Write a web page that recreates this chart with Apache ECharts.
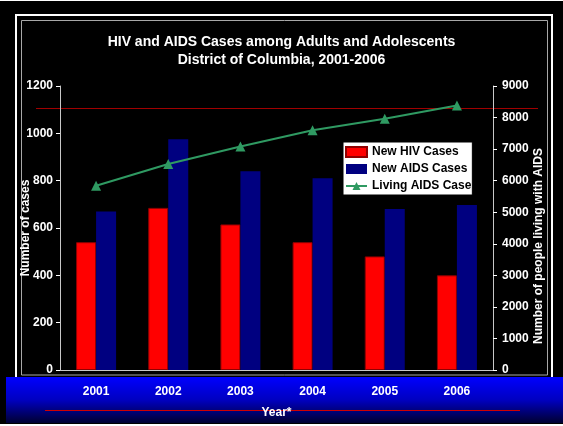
<!DOCTYPE html>
<html>
<head>
<meta charset="utf-8">
<style>
  html, body { margin: 0; padding: 0; background: #fff; }
  #chart { width: 563px; height: 426px; }
</style>
<script src="https://cdn.jsdelivr.net/npm/echarts@6/dist/echarts.min.js"></script>
</head>
<body>
<div id="chart"></div>
<script>
const years = ['2001', '2002', '2003', '2004', '2005', '2006']
const newHiv = [540, 685, 615, 540, 480, 400]
const newAids = [670, 975, 840, 810, 680, 697]
const livingAids = [5840, 6530, 7080, 7600, 7960, 8380]
const leftTicks = [0, 1200, 200]
const rightTicks = [0, 9000, 1000]

const font = 'Arial, "Liberation Sans", sans-serif'
const chart = echarts.init(document.getElementById('chart'))

chart.setOption({
  backgroundColor: '#000',
  animation: false,
  textStyle: { fontFamily: font },
  title: {
    text: 'HIV and AIDS Cases among Adults and Adolescents\nDistrict of Columbia, 2001-2006',
    left: 'center',
    top: 33,
    padding: 0,
    textStyle: { color: '#fff', fontSize: 14, fontWeight: 'bold', lineHeight: 18, fontFamily: font }
  },
  legend: {
    orient: 'vertical',
    left: 343,
    top: 142,
    padding: [4, 1, 3, 2],
    itemWidth: 21,
    itemHeight: 10,
    itemGap: 5,
    backgroundColor: '#fff',
    borderColor: '#000',
    borderWidth: 1,
    data: [
      { name: 'New HIV Cases', icon: 'rect' },
      { name: 'New AIDS Cases', icon: 'rect' },
      { name: 'Living AIDS Cases' }
    ],
    textStyle: {
      color: '#000', fontSize: 12, fontWeight: 'bold', fontFamily: font,
      width: 104, overflow: 'truncate', ellipsis: ''
    }
  },
  grid: { left: 60, right: 70, top: 86, bottom: 56 },
  xAxis: {
    type: 'category',
    data: years,
    name: 'Year*',
    nameLocation: 'middle',
    nameGap: 37,
    nameMoveOverlap: false,
    nameTextStyle: { color: '#fff', fontSize: 12, fontWeight: 'bold' },
    axisLine: { lineStyle: { color: '#c8c8c8', width: 1 } },
    axisTick: { inside: true, length: 5, lineStyle: { color: '#fff' } },
    axisLabel: { color: '#fff', fontSize: 12, fontWeight: 'bold', margin: 16 }
  },
  yAxis: [{
    type: 'value',
    min: leftTicks[0],
    max: leftTicks[1],
    interval: leftTicks[2],
    name: 'Number of cases',
    nameLocation: 'middle',
    nameRotate: 90,
    nameGap: 28,
    nameMoveOverlap: false,
    nameTextStyle: { color: '#fff', fontSize: 12, fontWeight: 'bold' },
    axisLine: { show: true, lineStyle: { color: '#c8c8c8' } },
    axisTick: { show: true, length: 4, lineStyle: { color: '#fff' } },
    axisLabel: { color: '#fff', fontSize: 12, fontWeight: 'bold', margin: 7, formatter: v => String(v) },
    splitLine: { show: false }
  }, {
    type: 'value',
    position: 'right',
    min: rightTicks[0],
    max: rightTicks[1],
    interval: rightTicks[2],
    name: 'Number of people living with AIDS',
    nameLocation: 'middle',
    nameRotate: 90,
    nameGap: 40,
    nameMoveOverlap: false,
    nameTextStyle: { color: '#fff', fontSize: 12, fontWeight: 'bold', padding: [0, 36, 0, 0] },
    axisLine: { show: true, lineStyle: { color: '#c8c8c8' } },
    axisTick: { show: true, length: 4, lineStyle: { color: '#fff' } },
    axisLabel: { color: '#fff', fontSize: 12, fontWeight: 'bold', margin: 9, formatter: v => String(v) },
    splitLine: { show: false }
  }],
  graphic: [
    { type: 'rect', z: -3, silent: true, shape: { x: 0, y: 0, width: 563, height: 1 }, style: { fill: '#fff' } },
    { type: 'rect', z: -3, silent: true, shape: { x: 16, y: 15, width: 536, height: 372 }, style: { fill: 'none', stroke: '#fff', lineWidth: 2 } },
    { type: 'rect', z: -3, silent: true, shape: { x: 21.5, y: 20.5, width: 526, height: 354.5 }, style: { fill: 'none', stroke: '#a8a8a8', lineWidth: 1 } },
    { type: 'line', z: -3, silent: true, shape: { x1: 36, y1: 108.5, x2: 538, y2: 108.5 }, style: { stroke: '#a00000', lineWidth: 1 } },
    {
      type: 'rect', z: -2, silent: true,
      shape: { x: 6, y: 377, width: 557, height: 46 },
      style: {
        fill: new echarts.graphic.LinearGradient(0, 0, 0, 1, [
          { offset: 0, color: '#0000ff' },
          { offset: 0.5, color: '#0000c0' },
          { offset: 1, color: '#000030' }
        ])
      }
    },
    { type: 'line', z: -1, silent: true, shape: { x1: 45, y1: 410.5, x2: 520, y2: 410.5 }, style: { stroke: '#d00000', lineWidth: 1 } },
    { type: 'rect', z: -1, silent: true, shape: { x: 0, y: 424, width: 563, height: 2 }, style: { fill: '#fff' } }
  ],
  series: [{
    name: 'New HIV Cases',
    type: 'bar',
    data: newHiv,
    barWidth: 20,
    barGap: '0%',
    itemStyle: { color: '#ff0000', borderColor: '#900000', borderWidth: 1 }
  }, {
    name: 'New AIDS Cases',
    type: 'bar',
    data: newAids,
    barWidth: 20,
    itemStyle: { color: '#000080' }
  }, {
    name: 'Living AIDS Cases',
    type: 'line',
    yAxisIndex: 1,
    data: livingAids,
    symbol: 'triangle',
    symbolSize: 10,
    lineStyle: { color: '#2f9a62', width: 2 },
    itemStyle: { color: '#2f9a62' }
  }]
})
</script>
</body>
</html>
